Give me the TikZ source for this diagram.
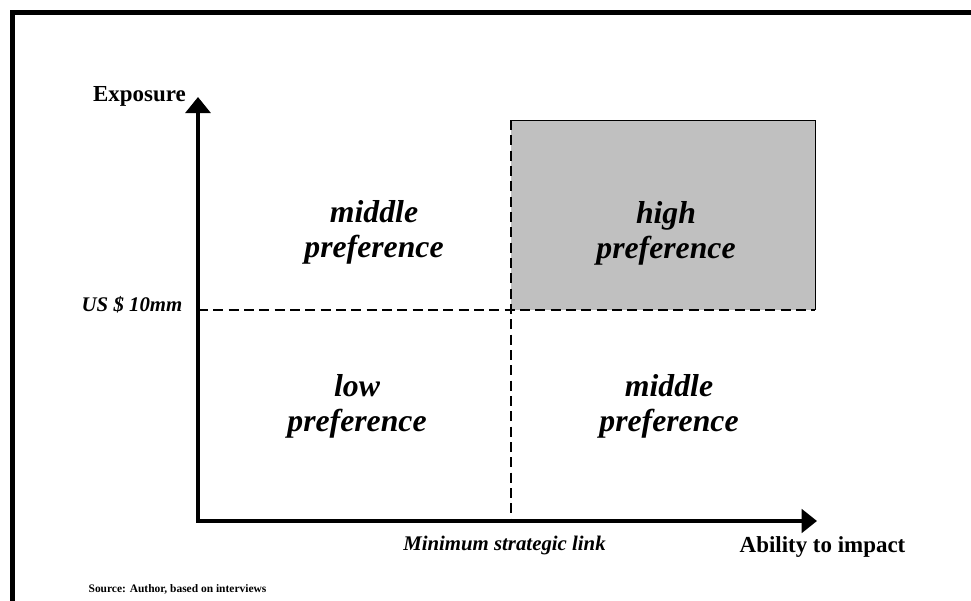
\documentclass[tikz,border=0pt]{standalone}
\usepackage{fontspec}
\setmainfont{Liberation Serif}
\usetikzlibrary{arrows.meta}
\definecolor{cellgray}{HTML}{C0C0C0}
\begin{document}
\begin{tikzpicture}[x=0.75pt,y=-0.75pt,
  frame/.style={line width=3.75pt},
  axis/.style={line width=3pt,{Triangle[length=12pt,width=18.5pt]}-{Triangle[length=11.5pt,width=17.5pt]}},
  divider/.style={line width=2.1pt,dash pattern=on 7.5pt off 4pt},
  quad/.style={font=\fontsize{23.8}{26.4}\selectfont\bfseries\itshape,align=center,inner sep=0pt},
  axislabel/.style={font=\fontsize{17.2}{20}\selectfont\bfseries,inner sep=0pt,anchor=base},
  marklabel/.style={font=\fontsize{15.6}{18}\selectfont\bfseries\itshape,inner sep=0pt,anchor=base},
  note/.style={font=\fontsize{8.6}{10}\selectfont\bfseries,inner sep=0pt,anchor=base}]
\clip (0,0) rectangle (971,600);
\fill[white] (0,0) rectangle (971,600);

% outer frame (continues past the right and lower edges)
\draw[frame] (12.5,620) -- (12.5,12.5) -- (990,12.5);

% key points
\coordinate (O) at (198,521);
\coordinate (ytop) at (198,97);
\coordinate (xend) at (817,521);
\coordinate (vtop) at (511,120);
\coordinate (vbot) at (511,521);
\coordinate (hl) at (198,310);
\coordinate (hr) at (815,310);
\coordinate (boxtr) at (815,120);

% shaded high-preference cell
\fill[cellgray] (vtop) rectangle (hr);
\draw[line width=0.6pt] (vtop) -- (boxtr) -- (hr);

% threshold dividers
\draw[divider] (vtop) -- (vbot);
\draw[divider] (hl) -- (hr);

% axes
\draw[axis] (ytop) -- (O) -- (xend);

% axis labels
\node[axislabel] (ylab) at (139.5,101) {Exposure};
\node[axislabel] (xlab) at (822.5,552) {Ability to impact};
\node[marklabel] (ymark) at (132,311) {US \$ 10mm};
\node[marklabel] (xmark) at (504.5,550) {Minimum strategic link};
\node[note] (src) at (177.5,592) {Source: Author, based on interviews};

% quadrant labels
\node[quad] (ul) at (374,232) {middle\\preference};
\node[quad] (ur) at (666,233) {high\\preference};
\node[quad] (ll) at (357,406) {low\\preference};
\node[quad] (lr) at (669,406) {middle\\preference};
\end{tikzpicture}
\end{document}
